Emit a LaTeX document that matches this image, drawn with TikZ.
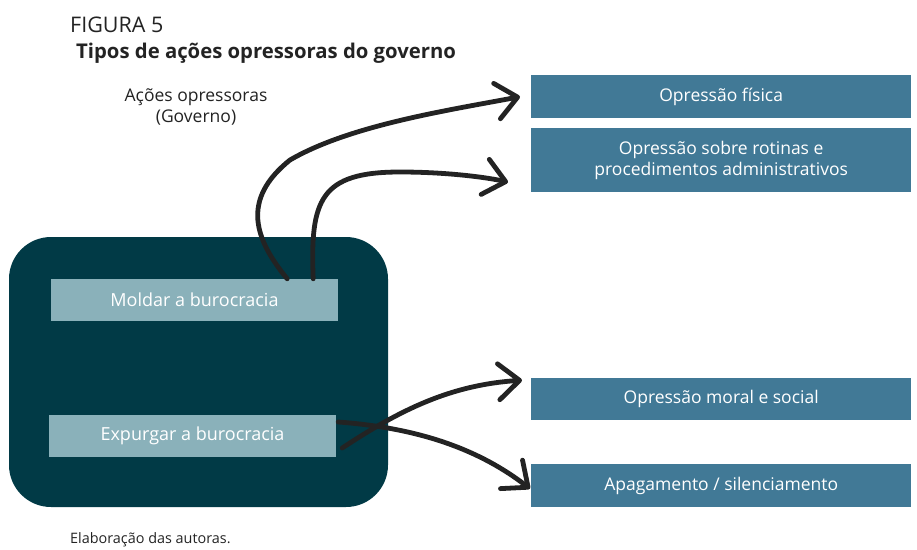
\documentclass[tikz,border=0pt]{standalone}
\usepackage{fontspec}
\setmainfont{Open Sans}
\usepackage{tikz}
\usetikzlibrary{arrows.meta}

\definecolor{frame}{RGB}{1,58,70}
\definecolor{pale}{RGB}{138,177,186}
\definecolor{steel}{RGB}{65,121,150}
\definecolor{ink}{RGB}{35,35,35}

\begin{document}
\begin{tikzpicture}[
      x=1pt, y=-1pt,
      inner sep=0pt,
      act/.style={fill=pale, text=white, minimum width=287pt, minimum height=42pt,
        font=\fontsize{18}{21}\selectfont},
      kind/.style={fill=steel, text=white, minimum width=380pt, anchor=north west,
        align=center, font=\fontsize{17.5}{21}\selectfont},
      flow/.style={draw=ink, line width=4.8pt, line cap=round,
        -{Straight Barb[length=21pt,width=36pt,round]}}
    ]
    \useasboundingbox (0,0) rectangle (917,549);
    \node (fig) [anchor=base west, text=ink, font=\fontsize{21.5}{24}\selectfont] at (70,32) {FIGURA 5};
    \node (title) [anchor=base west, text=ink, font=\fontsize{20.3}{24}\bfseries] at (76,58) {Tipos de ações opressoras do governo};
    \node (governo) [align=center, text=ink, font=\fontsize{17.5}{21}\selectfont] at (196,107) {Ações opressoras\\(Governo)};
    \fill[frame, rounded corners=42pt] (9,237) rectangle (388,507);
    \node (moldar) [act] at (194.5,300) {Moldar a burocracia};
    \node (expurgar) [act] at (192.5,436) {Expurgar a burocracia};
    \node (fisica) [kind, minimum height=43pt] at (531,75) {Opressão física};
    \node (rotinas) [kind, minimum height=64pt] at (531,128) {Opressão sobre rotinas e\\procedimentos administrativos};
    \node (moral) [kind, minimum height=42pt] at (531,378) {Opressão moral e social};
    \node (apagamento) [kind, minimum height=43pt] at (531,464) {Apagamento / silenciamento};
    \node (fonte) [anchor=base west, text=ink, font=\fontsize{14.4}{17}\selectfont] at (70,543) {Elaboração das autoras.};
    % setas
    \draw[flow] ([xshift=-51pt]moldar.north east) .. controls +(-32,-39) and (240,200) .. (290,160)
      .. controls (350,125) and (450,110) .. ([xshift=-11pt]fisica.west);
    \draw[flow] ([xshift=-25pt]moldar.north east) .. controls (310,200) and (320,172) .. (400,172)
      .. controls (450,172) and (490,178) .. ([xshift=-23pt,yshift=-22pt]rotinas.west);
    \draw[flow] ([xshift=6pt,yshift=-12pt]expurgar.east) .. controls (400,410) and (450,385) .. ([xshift=-9pt,yshift=19pt]moral.west);
    \draw[flow] ([xshift=2pt,yshift=14pt]expurgar.east) .. controls (420,428) and (480,450) .. ([xshift=-1pt,yshift=-3pt]apagamento.west);
  \end{tikzpicture}
\end{document}
